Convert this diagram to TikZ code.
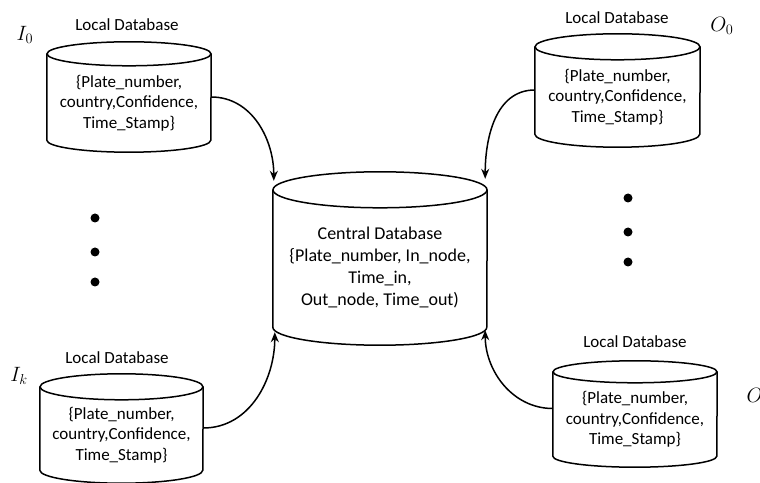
\documentclass[tikz,border=0pt]{standalone}
\usepackage{fontspec}
\setmainfont{Carlito}
\usetikzlibrary{calc,arrows.meta}

\tikzset{
	dbtext/.style={inner sep=0pt, align=center, font=\fontsize{17}{20.5}\selectfont},
	centraltext/.style={inner sep=0pt, align=center, font=\fontsize{18}{22}\selectfont},
	dbline/.style={line width=1.5pt},
	flow/.style={line width=1.5pt, -{Stealth[length=10pt,width=8pt]}},
	portlabel/.style={font=\fontsize{20}{24}\selectfont},
}

% node name, x radius, y radius
\newcommand{\dbcyl}[3]{%
	\draw[dbline] ($(#1.north west)+(0,#3)$) -- (#1.south west)
		arc[start angle=180, end angle=360, x radius=#2, y radius=#3]
		-- ($(#1.north east)+(0,#3)$);
	\draw[dbline] ($(#1.north)+(0,#3)$) ellipse[x radius=#2, y radius=#3];
}

\begin{document}
\begin{tikzpicture}[x=1pt,y=1pt]

	\useasboundingbox (0,0) rectangle (760,482);

	% local databases, in side
	\node[dbtext, minimum width=164pt, minimum height=74pt] (in0) at (129,379)
		{\{Plate\_number,\\country,Confidence,\\Time\_Stamp\}};
	\node[dbtext, minimum width=163pt, minimum height=70pt] (ink) at (121.5,47)
		{\{Plate\_number,\\country,Confidence,\\Time\_Stamp\}};

	% local databases, out side
	\node[dbtext, minimum width=165pt, minimum height=74pt] (out0) at (617.5,385)
		{\{Plate\_number,\\country,Confidence,\\Time\_Stamp\}};
	\node[dbtext, minimum width=164pt, minimum height=73pt] (outk) at (635,62.5)
		{\{Plate\_number,\\country,Confidence,\\Time\_Stamp\}};

	% central database
	\node[centraltext, minimum width=214pt, minimum height=119pt] (cdb) at (380,214.5)
		{Central Database\\\{Plate\_number, In\_node,\\Time\_in,\\Out\_node, Time\_out)};

	\dbcyl{in0}{82}{12}
	\dbcyl{ink}{81.5}{13}
	\dbcyl{out0}{82.5}{13}
	\dbcyl{outk}{82}{11}
	\dbcyl{cdb}{107}{18}

	\node[dbtext] (lbin0) at (127,457) {Local Database};
	\node[dbtext] (lbink) at (117,124) {Local Database};
	\node[dbtext] (lbout0) at (617,464) {Local Database};
	\node[dbtext] (lboutk) at (635,140) {Local Database};

	\node[portlabel] (pin0) at (25,447) {$I_0$};
	\node[portlabel] (pink) at (19,106) {$I_k$};
	\node[portlabel] (pout0) at (722,456) {$O_0$};
	\node[portlabel, anchor=west] (poutk) at (743,85) {$O_k$};

	\coordinate (cdb-in0) at ($(cdb.north west)+(1,27)$);
	\coordinate (cdb-out0) at ($(cdb.north east)+(-2,29)$);
	\coordinate (cdb-ink) at ($(cdb.south west)+(2,-5)$);
	\coordinate (cdb-outk) at ($(cdb.south east)+(-2,-3)$);

	\draw[flow] ($(in0.east)+(0,6)$) to[out=0,in=90] (cdb-in0);
	\draw[flow] ($(out0.west)+(0,7)$) to[out=180,in=90] (cdb-out0);
	\draw[flow] ($(ink.east)+(0,7)$) to[out=0,in=-90] (cdb-ink);
	\draw[flow] ($(outk.west)+(0,11)$) to[out=180,in=-90] (cdb-outk);

	% dots between the local databases
	\foreach \y in {264,230,200} \fill (95,\y) circle (4.5);
	\foreach \y in {284,250,220} \fill (628,\y) circle (4.5);

\end{tikzpicture}
\end{document}
